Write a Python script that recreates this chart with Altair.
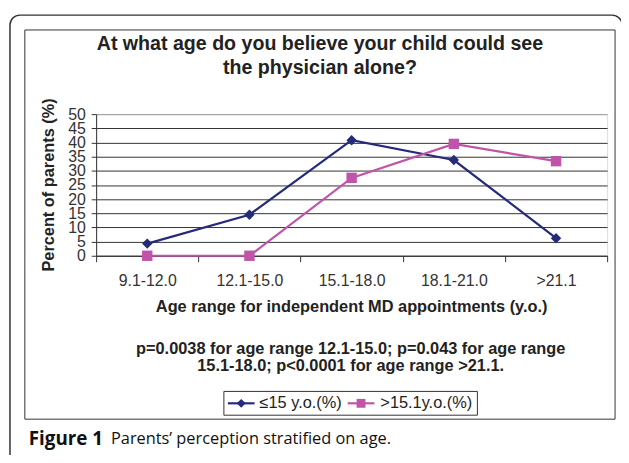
import altair as alt
import pandas as pd

# ---- data ----
CATEGORIES = ["9.1-12.0", "12.1-15.0", "15.1-18.0", "18.1-21.0", ">21.1"]
SERIES = ["≤15 y.o.(%)", ">15.1y.o.(%)"]
LE15 = [4.3, 14.5, 40.8, 33.8, 6.2]
GT15 = [0, 0, 27.5, 39.5, 33.4]
Y_TICKS = [0, 5, 10, 15, 20, 25, 30, 35, 40, 45, 50]
COLORS = ["#262A7A", "#C054A8"]
SHAPES = ["diamond", "square"]

TITLE_LINES = ["At what age do you believe your child could see", "the physician alone?"]
X_TITLE = "Age range for independent MD appointments (y.o.)"
Y_TITLE = "Percent of parents (%)"
NOTE_LINES = ["p=0.0038 for age range 12.1-15.0; p=0.043 for age range",
              "15.1-18.0; p<0.0001 for age range >21.1."]
CAPTION_BOLD = "Figure 1"
CAPTION_TEXT = "Parents\u2019 perception stratified on age."

rows = []
for s, vals in zip(SERIES, [LE15, GT15]):
    for c, v in zip(CATEGORIES, vals):
        rows.append({"cat": c, "value": v, "series": s})
df = pd.DataFrame(rows)

FONT = "Arial, 'Liberation Sans', Helvetica, sans-serif"
CAP_FONT = "'Open Sans', sans-serif"
W, H = 516, 143

x_enc = alt.X(
    "cat:N", sort=CATEGORIES, bandPosition=0.5,
    scale=alt.Scale(type="band", paddingInner=0, paddingOuter=0),
    axis=alt.Axis(title=None, tickBand="extent", labelAngle=0, labelFont=FONT,
                  labelFontSize=16, labelColor="#333", tickSize=6, tickColor="#333",
                  domainColor="#333", labelPadding=11, grid=False),
)
y_enc = alt.Y(
    "value:Q", scale=alt.Scale(domain=[0, 50], nice=False),
    axis=alt.Axis(title=None, values=Y_TICKS, labelFont=FONT, labelFontSize=16,
                  labelColor="#333", tickSize=5, tickColor="#333", domainColor="#333",
                  labelPadding=6, labelOverlap=False, labelFlush=False,
                  gridColor=alt.condition("datum.value == 50", alt.value("#999999"), alt.value("#333333"))),
)

layers = []
base = alt.Chart(df).mark_line(opacity=0).encode(x=x_enc, y=y_enc)
layers.append(base)

for s, col, shp in zip(SERIES, COLORS, SHAPES):
    sub = alt.Chart(df).transform_filter(alt.datum.series == s)
    layers.append(sub.mark_line(color=col, strokeWidth=2.2).encode(x=x_enc, y=y_enc))
    layers.append(sub.mark_point(shape=shp, filled=True, color=col, size=110, opacity=1).encode(x=x_enc, y=y_enc))


def one():
    return alt.Chart(alt.Data(values=[{"k": 0}]))


def txt(text, x, y, size=14, bold=True, align="center", font=FONT, angle=0, color="#222"):
    kw = dict(align=align, baseline="middle", font=font, fontSize=size,
              fontWeight="bold" if bold else "normal", color=color)
    if angle:
        kw["angle"] = angle
    return one().mark_text(**kw).encode(x=alt.value(x), y=alt.value(y), text=alt.value(text))


# frames
layers.append(one().mark_rect(fillOpacity=0, stroke="#333", strokeWidth=1.5, cornerRadius=10).encode(
    x=alt.value(-87), x2=alt.value(531), y=alt.value(-100), y2=alt.value(520)))
layers.append(one().mark_rect(fillOpacity=0, stroke="#333", strokeWidth=1).encode(
    x=alt.value(-72), x2=alt.value(524), y=alt.value(-85), y2=alt.value(308)))

# titles
layers.append(txt(TITLE_LINES[0], 226, -71, size=19.8))
layers.append(txt(TITLE_LINES[1], 226, -47, size=19.8))
layers.append(txt(Y_TITLE, -48, 71.5, size=16.5, angle=270))
layers.append(txt(X_TITLE, 258, 195, size=16.5))
layers.append(txt(NOTE_LINES[0], 257, 237, size=16.5))
layers.append(txt(NOTE_LINES[1], 257, 254, size=16.5))

# legend
layers.append(one().mark_rect(fill="white", stroke="#333", strokeWidth=1).encode(
    x=alt.value(129), x2=alt.value(385), y=alt.value(280), y2=alt.value(304)))
leg = [(133, 160, 165), (254, 281, 287)]
for (x1, x2, tx), s, col, shp in zip(leg, SERIES, COLORS, SHAPES):
    layers.append(one().mark_rule(color=col, strokeWidth=2.2).encode(
        x=alt.value(x1), x2=alt.value(x2), y=alt.value(292)))
    layers.append(one().mark_point(shape=shp, filled=True, color=col, size=80, opacity=1).encode(
        x=alt.value((x1 + x2) / 2), y=alt.value(292)))
    layers.append(txt(s, tx, 292, size=16.5, bold=False, align="left"))

# caption
layers.append(txt(CAPTION_BOLD, -68, 328, size=19, bold=True, align="left", font=CAP_FONT, color="#111"))
layers.append(txt(CAPTION_TEXT, 15, 328, size=16.5, bold=False, align="left", font=CAP_FONT, color="#111"))

chart = alt.layer(*layers).properties(
    width=W, height=H,
    autosize=alt.AutoSizeParams(type="none"),
    padding={"left": 89, "top": 105, "right": 14, "bottom": 199},
).configure_view(stroke="#999999", strokeWidth=1).configure(background="white")

chart.save("out.html", embed_options={"renderer": "svg", "actions": False})
